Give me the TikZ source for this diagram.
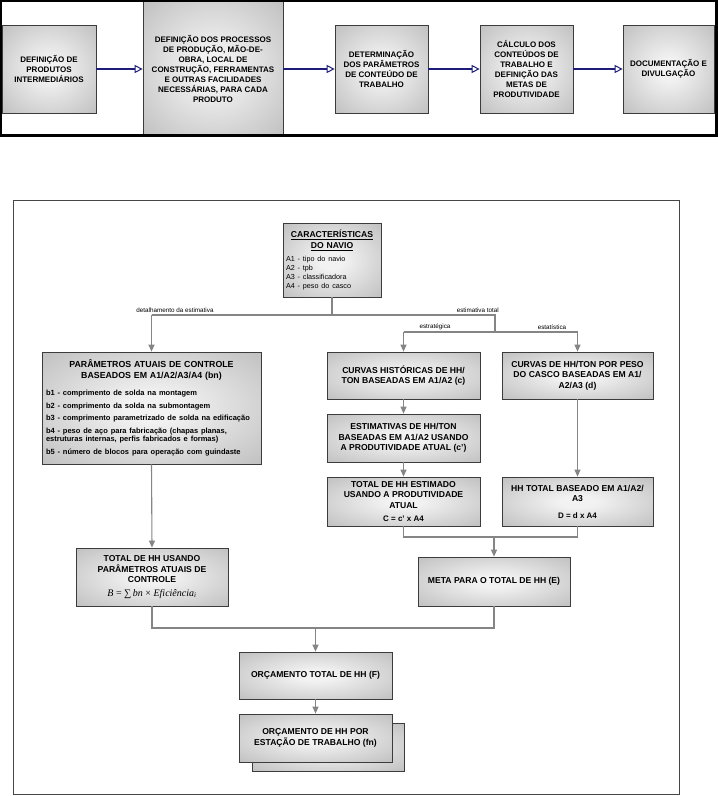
\documentclass[tikz,border=0pt]{standalone}
\usepackage{fontspec}
\setmainfont{Liberation Sans}
\newfontfamily\serifit{Liberation Serif}
\usetikzlibrary{arrows.meta}
\definecolor{bxin}{HTML}{F2F2F2}
\definecolor{bxout}{HTML}{A8A8A8}
\definecolor{bxcorner}{HTML}{909090}
\definecolor{navy}{HTML}{1C1C7A}
\definecolor{lnk}{HTML}{858585}
\definecolor{bord}{HTML}{3C3C3C}
\pgfdeclareradialshading{boxshade}{\pgfpoint{0bp}{0bp}}{color(0bp)=(bxin); color(6bp)=(bxin); color(50bp)=(bxout); color(72bp)=(bxcorner)}
\tikzset{
  box/.style={draw=bord, line width=0.7pt, shading=boxshade, inner sep=2pt, align=center,
    font=\bfseries\fontsize{8.6}{10.5}\selectfont},
  topbox/.style={box, font=\bfseries\fontsize{8}{10}\selectfont},
  sz/.style 2 args={minimum width=#1pt, minimum height=#2pt},
  bluearrow/.style={draw=navy, line width=1.2pt, -{Triangle[open, length=8pt, width=8pt, line width=1pt]}},
  gline/.style={draw=lnk, line width=1.1pt},
  garrow/.style={gline, -{Triangle[length=7pt, width=6pt]}},
  lbl/.style={font=\fontsize{6.3}{7}\selectfont, inner sep=0pt},
}
\begin{document}
\begin{tikzpicture}[x=1pt, y=-1pt]
\useasboundingbox (0,0) rectangle (718,796);
% ---------------- top strip ----------------
\node[topbox, sz={94}{88}] (t1) at (49,69) {DEFINIÇÃO DE\\PRODUTOS\\INTERMEDIÁRIOS};
\node[topbox, sz={140}{134}] (t2) at (213,68.5) {DEFINIÇÃO DOS PROCESSOS\\DE PRODUÇÃO, MÃO-DE-\\OBRA, LOCAL DE\\CONSTRUÇÃO, FERRAMENTAS\\E OUTRAS FACILIDADES\\NECESSÁRIAS, PARA CADA\\PRODUTO};
\node[topbox, sz={93}{88}] (t3) at (381.5,69) {DETERMINAÇÃO\\DOS PARÂMETROS\\DE CONTEÚDO DE\\TRABALHO};
\node[topbox, sz={93}{88}] (t4) at (526.5,69) {CÁLCULO DOS\\CONTEÚDOS DE\\TRABALHO E\\DEFINIÇÃO DAS\\METAS DE\\PRODUTIVIDADE};
\node[topbox, sz={91}{88}] (t5) at (668.5,69) {DOCUMENTAÇÃO E\\DIVULGAÇÃO};
\draw[bluearrow] (t1.east) -- (t1.east -| t2.west);
\draw[bluearrow] (t1.east -| t2.east) -- (t1.east -| t3.west);
\draw[bluearrow] (t3.east) -- (t4.west);
\draw[bluearrow] (t4.east) -- (t5.west);
\draw[line width=2.4pt, black] (1.2,1.2) rectangle (716.3,135.5);
% ---------------- bottom diagram ----------------
\draw[draw=gray!55!black, line width=0.8pt] (13,200) rectangle (679,794);
\node[box, sz={98}{74}, text width=92pt, align=left] (car) at (332,260)
 {{\centering\bfseries\fontsize{8.6}{10.5}\selectfont \underline{CARACTERÍSTICAS}\\\underline{DO NAVIO}\par}
  \vspace{4pt}
  {\mdseries\fontsize{7.2}{9}\selectfont A1 - tipo do navio\\A2 - tpb\\A3 - classificadora\\A4 - peso do casco\par}};
\node[box, sz={219}{112}, text width=211pt, align=left] (par) at (151.5,408)
 {{\centering\bfseries\fontsize{8.8}{10.5}\selectfont PARÂMETROS ATUAIS DE CONTROLE\\BASEADOS EM A1/A2/A3/A4 (bn)\par}
  \vspace{5pt}
  {\bfseries\fontsize{7.5}{8.5}\selectfont\setlength{\parskip}{4pt}
   b1 - comprimento de solda na montagem\par
   b2 - comprimento da solda na submontagem\par
   b3 - comprimento parametrizado de solda na edificação\par
   b4 - peso de aço para fabricação (chapas planas,\\estruturas internas, perfis fabricados e formas)\par
   b5 - número de blocos para operação com guindaste\par}};
\node[box, sz={153}{47}] (hist) at (403.5,375.5) {CURVAS HISTÓRICAS DE HH/\\TON BASEADAS EM A1/A2 (c)};
\node[box, sz={151}{47}] (dton) at (577.5,375.5) {CURVAS DE HH/TON POR PESO\\DO CASCO BASEADAS EM A1/\\A2/A3 (d)};
\node[box, sz={153}{48}] (est) at (403.5,438) {ESTIMATIVAS DE HH/TON\\BASEADAS EM A1/A2 USANDO\\A PRODUTIVIDADE ATUAL (c')};
\node[box, sz={153}{49}] (totc) at (403.5,501.5) {TOTAL DE HH ESTIMADO\\USANDO A PRODUTIVIDADE\\ATUAL\\[3pt]{\fontsize{8}{9}\selectfont C = c' x A4}};
\node[box, sz={151}{49}] (totd) at (577.5,501.5) {HH TOTAL BASEADO EM A1/A2/\\A3\\[6pt]{\fontsize{8}{9}\selectfont D = d x A4}};
\node[box, sz={152}{58}] (totb) at (152,577) {TOTAL DE HH USANDO\\PARÂMETROS ATUAIS DE\\CONTROLE\\[3pt]
  \mbox{\serifit\mdseries\fontsize{10}{11}\selectfont\textit{B} = ∑\,\textit{bn} × \textit{Eficiência}\textsubscript{\textit{i}}}};
\node[box, sz={152}{49}] (meta) at (494,581.5) {META PARA O TOTAL DE HH (E)};
\node[box, sz={153}{47}] (orc) at (315.5,675.5) {ORÇAMENTO TOTAL DE HH (F)};
\node[box, sz={152}{48}] (shad) at (328,747) {};
\node[box, sz={153}{48}] (orcw) at (315.5,738) {ORÇAMENTO DE HH POR\\ESTAÇÃO DE TRABALHO (fn)};
% junction coordinates
\coordinate (jl) at (151.5,315);
\coordinate (jr) at (495,315);
\coordinate (sl) at (403.5,332);
\coordinate (sr) at (577.5,332);
\coordinate (ml) at (403.5,537);
\coordinate (mr) at (577.5,537);
\coordinate (mm) at (494,537);
\coordinate (bl) at (152,628);
\coordinate (br) at (494,628);
\coordinate (bm) at (315.5,628);
% connectors
\draw[gline] (car.south) -- (car.south |- jl);
\draw[gline] (jl) -- (jr) -- (jr |- sl);
\draw[garrow] (jl) -- (par.north);
\draw[gline] (sl) -- (sr);
\draw[garrow] (sl) -- (hist.north);
\draw[garrow] (sr) -- (dton.north);
\draw[garrow] (hist.south) -- (est.north);
\draw[garrow] (est.south) -- (totc.north);
\draw[garrow] (dton.south) -- (totd.north);
\draw[gline] (totc.south) -- (ml) -- (mr) -- (totd.south);
\draw[garrow] (mm) -- (meta.north);
\draw[garrow] (par.south) -- (totb.north);
\draw[gline] (totb.south) -- (bl) -- (br) -- (meta.south);
\draw[garrow] (bm) -- (orc.north);
\draw[garrow] (orc.south) -- (orcw.north);
% labels
\node[lbl] (l1) at (175,310) {detalhamento da estimativa};
\node[lbl, anchor=east] (l2) at (499,310) {estimativa total};
\node[lbl] (l3) at (435,327) {estratégica};
\node[lbl] (l4) at (552,327) {estatística};
\end{tikzpicture}
\end{document}
